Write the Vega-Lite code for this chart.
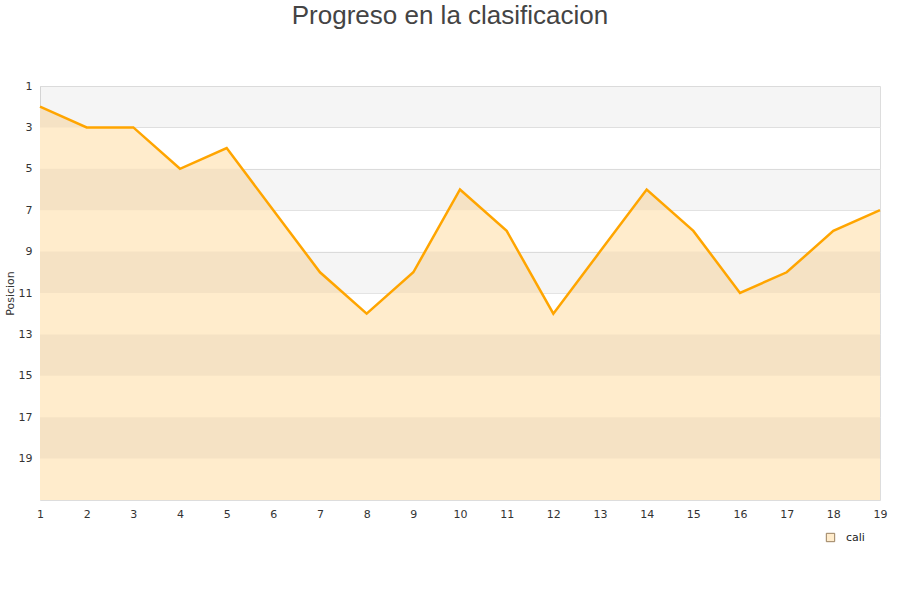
{
  "$schema": "https://vega.github.io/schema/vega-lite/v6.json",
  "width": 840,
  "height": 414,
  "autosize": {"type": "none"},
  "padding": {"left": 40, "top": 86, "right": 20, "bottom": 100},
  "background": "white",
  "title": {
    "text": "Progreso en la clasificacion",
    "font": "Liberation Sans",
    "fontSize": 26,
    "fontWeight": "normal",
    "color": "#444444",
    "anchor": "middle",
    "dx": -10,
    "offset": 51
  },
  "config": {
    "view": {"stroke": "#dddddd"},
    "axis": {
      "labelFont": "DejaVu Sans",
      "labelFontSize": 11,
      "labelColor": "#333333",
      "titleFont": "DejaVu Sans",
      "titleFontSize": 11,
      "titleFontWeight": "normal",
      "titleColor": "#333333",
      "ticks": false,
      "domain": false
    }
  },
  "datasets": {
    "pos": [
      {"jornada": 1, "posicion": 2, "equipo": "cali"},
      {"jornada": 2, "posicion": 3, "equipo": "cali"},
      {"jornada": 3, "posicion": 3, "equipo": "cali"},
      {"jornada": 4, "posicion": 5, "equipo": "cali"},
      {"jornada": 5, "posicion": 4, "equipo": "cali"},
      {"jornada": 6, "posicion": 7, "equipo": "cali"},
      {"jornada": 7, "posicion": 10, "equipo": "cali"},
      {"jornada": 8, "posicion": 12, "equipo": "cali"},
      {"jornada": 9, "posicion": 10, "equipo": "cali"},
      {"jornada": 10, "posicion": 6, "equipo": "cali"},
      {"jornada": 11, "posicion": 8, "equipo": "cali"},
      {"jornada": 12, "posicion": 12, "equipo": "cali"},
      {"jornada": 13, "posicion": 9, "equipo": "cali"},
      {"jornada": 14, "posicion": 6, "equipo": "cali"},
      {"jornada": 15, "posicion": 8, "equipo": "cali"},
      {"jornada": 16, "posicion": 11, "equipo": "cali"},
      {"jornada": 17, "posicion": 10, "equipo": "cali"},
      {"jornada": 18, "posicion": 8, "equipo": "cali"},
      {"jornada": 19, "posicion": 7, "equipo": "cali"}
    ],
    "bands": [
      {"b0": 1, "b1": 3},
      {"b0": 5, "b1": 7},
      {"b0": 9, "b1": 11},
      {"b0": 13, "b1": 15},
      {"b0": 17, "b1": 19}
    ]
  },
  "layer": [
    {
      "data": {"name": "pos"},
      "mark": {"type": "area", "opacity": 1},
      "encoding": {
        "x": {
          "field": "jornada", "type": "quantitative",
          "scale": {"domain": [1, 19], "nice": false, "zero": false},
          "axis": {"values": [1,2,3,4,5,6,7,8,9,10,11,12,13,14,15,16,17,18,19], "grid": false, "title": null, "labelPadding": 8, "labelFlush": false, "format": "d"}
        },
        "y": {
          "field": "posicion", "type": "quantitative",
          "scale": {"domain": [1, 21], "reverse": true, "nice": false, "zero": false},
          "axis": {"values": [1,3,5,7,9,11,13,15,17,19], "grid": true, "gridColor": "#e4e4e4", "title": "Posicion", "titlePadding": 3, "labelPadding": 8}
        },
        "y2": {"datum": 21},
        "color": {
          "field": "equipo", "type": "nominal",
          "scale": {"range": ["#ffeccc"]},
          "legend": {
            "title": null,
            "orient": "none",
            "legendX": 785,
            "legendY": 446,
            "symbolType": "square",
            "symbolSize": 70,
            "symbolStrokeColor": "#9a8060",
            "symbolStrokeWidth": 1,
            "labelOffset": 10,
            "labelFont": "DejaVu Sans",
            "labelFontSize": 11,
            "labelColor": "#222222"
          }
        }
      }
    },
    {
      "data": {"name": "bands"},
      "mark": {"type": "rect", "color": "#000000", "opacity": 0.04},
      "encoding": {
        "y": {"field": "b0", "type": "quantitative"},
        "y2": {"field": "b1"}
      }
    },
    {
      "data": {"name": "pos"},
      "mark": {"type": "line", "color": "#FFA500", "strokeWidth": 2.5},
      "encoding": {
        "x": {"field": "jornada", "type": "quantitative"},
        "y": {"field": "posicion", "type": "quantitative"}
      }
    }
  ]
}
